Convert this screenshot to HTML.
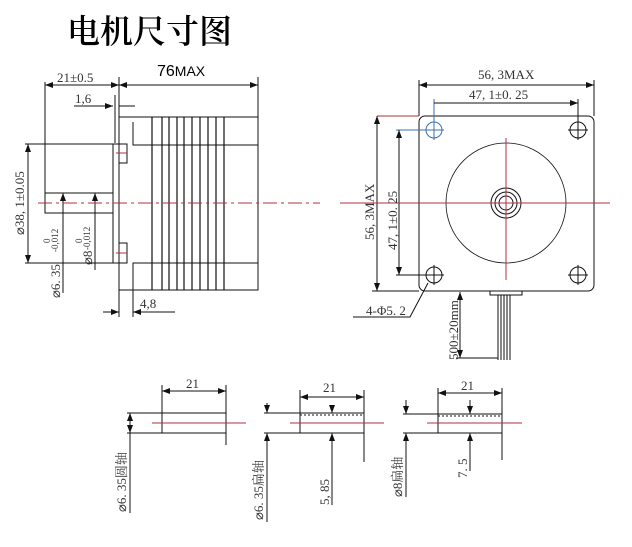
<!DOCTYPE html>
<html><head><meta charset="utf-8"><style>
html,body{margin:0;padding:0;background:#fff;width:632px;height:547px;overflow:hidden}
svg{display:block}
text{font-family:"Liberation Serif","Noto Serif CJK SC",serif;fill:#333}
</style></head><body>
<svg width="632" height="547" viewBox="0 0 632 547" xmlns="http://www.w3.org/2000/svg">
<defs>
<marker id="a" markerWidth="8" markerHeight="6" refX="8" refY="3" orient="auto-start-reverse" markerUnits="userSpaceOnUse"><path d="M0,0 L8,3 L0,6 z" fill="#111"/></marker>
</defs>
<text x="67" y="43" font-size="33" font-weight="600" style="font-family:'Noto Serif CJK SC',serif;fill:#000">电机尺寸图</text>

<g stroke="#111" stroke-width="1" fill="none">
<line x1="45" y1="82" x2="45" y2="213"/>
<line x1="119" y1="77" x2="119" y2="317"/>
<line x1="258" y1="77" x2="258" y2="163"/>
<line x1="45" y1="85" x2="119" y2="85" marker-start="url(#a)" marker-end="url(#a)"/>
<line x1="119" y1="85" x2="258" y2="85" marker-start="url(#a)" marker-end="url(#a)"/>
<line x1="74" y1="106" x2="113" y2="106" marker-end="url(#a)"/>
<line x1="119" y1="106" x2="135" y2="106"/>
<line x1="115" y1="95" x2="115" y2="143"/>
<rect x="113" y="144" width="6" height="119"/>
<rect x="119" y="117" width="139" height="173"/>
<polyline points="133,122 133,145 258,145"/>
<polyline points="133,290 133,263 258,263"/>
<g stroke-width="1.2">
<line x1="152" y1="117" x2="152" y2="290"/><line x1="162" y1="117" x2="162" y2="290"/>
<line x1="169" y1="117" x2="169" y2="290"/><line x1="177" y1="117" x2="177" y2="290"/>
<line x1="184" y1="117" x2="184" y2="290"/><line x1="192" y1="117" x2="192" y2="290"/>
<line x1="200" y1="117" x2="200" y2="290"/><line x1="208" y1="117" x2="208" y2="290"/>
<line x1="216" y1="117" x2="216" y2="290"/><line x1="224" y1="117" x2="224" y2="290"/>
</g>
<rect x="119" y="144" width="8" height="19"/>
<rect x="119" y="243" width="8" height="20"/>
<line x1="25" y1="144" x2="113" y2="144"/>
<line x1="25" y1="263" x2="113" y2="263"/>
<line x1="28" y1="144" x2="28" y2="263" marker-start="url(#a)" marker-end="url(#a)"/>
<rect x="45" y="193" width="68" height="20"/>
<line x1="63" y1="193" x2="63" y2="293" marker-start="url(#a)"/>
<line x1="95" y1="193" x2="95" y2="270" marker-start="url(#a)"/>
<line x1="133" y1="290" x2="133" y2="317"/>
<line x1="103" y1="312" x2="119" y2="312" marker-end="url(#a)"/>
<line x1="133" y1="312" x2="175" y2="312" marker-start="url(#a)"/>

<rect x="419" y="116" width="175" height="175" rx="6"/>
<line x1="419" y1="80" x2="419" y2="116"/>
<line x1="594" y1="80" x2="594" y2="116"/>
<line x1="419" y1="85" x2="594" y2="85" marker-start="url(#a)" marker-end="url(#a)"/>
<line x1="434" y1="99" x2="434" y2="140" stroke="#3a6fb0"/>
<line x1="578" y1="99" x2="578" y2="122"/>
<line x1="434" y1="103" x2="578" y2="103" marker-end="url(#a)"/>
<circle cx="434" cy="130" r="8" stroke="#3a6fb0"/><line x1="424" y1="130" x2="444" y2="130" stroke="#3a6fb0"/>
<circle cx="578" cy="130" r="8"/><line x1="568" y1="130" x2="588" y2="130"/><line x1="578" y1="120" x2="578" y2="140"/>
<circle cx="434" cy="275" r="8"/><line x1="424" y1="275" x2="444" y2="275"/><line x1="434" y1="265" x2="434" y2="285"/>
<circle cx="578" cy="275" r="8"/><line x1="568" y1="275" x2="588" y2="275"/><line x1="578" y1="265" x2="578" y2="285"/>
<circle cx="506" cy="203" r="60" stroke-width="0.8"/>
<circle cx="506" cy="203" r="15"/>
<circle cx="506" cy="203" r="11"/>
<circle cx="506" cy="203" r="7"/>
<line x1="377" y1="116" x2="419" y2="116" stroke="#a33"/>
<line x1="372" y1="291" x2="419" y2="291"/>
<line x1="377" y1="116" x2="377" y2="291" marker-start="url(#a)" marker-end="url(#a)"/>
<line x1="396" y1="130" x2="434" y2="130" stroke="#3a6fb0"/>
<line x1="396" y1="275" x2="424" y2="275"/>
<line x1="399" y1="130" x2="399" y2="275" marker-start="url(#a)" marker-end="url(#a)"/>
<polyline points="353,317 410,317 428,283"/>
<rect x="490" y="291" width="32" height="4"/>
<g stroke-width="1"><line x1="498" y1="295" x2="498" y2="360"/><line x1="501" y1="295" x2="501" y2="360"/><line x1="504" y1="295" x2="504" y2="360"/><line x1="507" y1="295" x2="507" y2="360"/><line x1="510" y1="295" x2="510" y2="360"/></g>
<line x1="460" y1="292" x2="460" y2="358" marker-start="url(#a)" marker-end="url(#a)"/>
<line x1="456" y1="358" x2="498" y2="358"/>

<rect x="162" y="413" width="64" height="20"/>
<line x1="162" y1="385" x2="162" y2="413"/>
<line x1="226" y1="385" x2="226" y2="445"/>
<line x1="162" y1="391" x2="226" y2="391" marker-start="url(#a)" marker-end="url(#a)"/>
<line x1="127" y1="413" x2="162" y2="413"/>
<line x1="127" y1="433" x2="162" y2="433"/>
<line x1="130" y1="413" x2="130" y2="433" marker-start="url(#a)" marker-end="url(#a)"/>
<line x1="130" y1="433" x2="130" y2="513"/>
<rect x="300" y="413" width="64" height="20"/>
<line x1="300" y1="415" x2="364" y2="415" stroke-dasharray="2,2"/>
<line x1="300" y1="390" x2="300" y2="413"/>
<line x1="364" y1="390" x2="364" y2="462"/>
<line x1="300" y1="397" x2="364" y2="397" marker-start="url(#a)" marker-end="url(#a)"/>
<line x1="332" y1="406" x2="332" y2="413" marker-end="url(#a)"/>
<line x1="332" y1="433" x2="332" y2="505" marker-start="url(#a)"/>
<line x1="264" y1="413" x2="300" y2="413"/>
<line x1="264" y1="433" x2="300" y2="433"/>
<line x1="267" y1="403" x2="267" y2="413" marker-end="url(#a)"/>
<line x1="267" y1="433" x2="267" y2="522" marker-start="url(#a)"/>
<rect x="438" y="414" width="64" height="19"/>
<line x1="438" y1="416" x2="502" y2="416" stroke-dasharray="2,2"/>
<line x1="438" y1="388" x2="438" y2="414"/>
<line x1="502" y1="388" x2="502" y2="460"/>
<line x1="438" y1="393" x2="502" y2="393" marker-start="url(#a)" marker-end="url(#a)"/>
<line x1="470" y1="400" x2="470" y2="414" marker-end="url(#a)"/>
<line x1="470" y1="433" x2="470" y2="471" marker-start="url(#a)"/>
<line x1="403" y1="414" x2="438" y2="414"/>
<line x1="403" y1="433" x2="438" y2="433"/>
<line x1="406" y1="400" x2="406" y2="414" marker-end="url(#a)"/>
<line x1="406" y1="433" x2="406" y2="497" marker-start="url(#a)"/>
</g>

<g stroke="#b03040" stroke-width="1" fill="none">
<line x1="38" y1="203" x2="320" y2="203" stroke-dasharray="14,4,3,4"/>
<line x1="340" y1="203" x2="610" y2="203"/>
<line x1="506" y1="138" x2="506" y2="280"/>
<line x1="116" y1="153" x2="127" y2="153"/><line x1="116" y1="253" x2="127" y2="253"/>
<line x1="152" y1="423" x2="246" y2="423"/>
<line x1="290" y1="423" x2="384" y2="423"/>
<line x1="427" y1="423" x2="522" y2="423"/>
</g>

<g font-size="13">
<text x="57" y="82">21±0.5</text>
<text x="157" y="76" font-size="16" style="font-family:'Liberation Sans',sans-serif;fill:#000">76<tspan font-size="14">MAX</tspan></text>
<text x="75" y="103">1,6</text>
<text x="140" y="308">4,8</text>
<text transform="translate(24,235) rotate(-90)">⌀38, 1±0.05</text>
<text transform="translate(60,298) rotate(-90)">⌀6. 35</text>
<text transform="translate(92,265) rotate(-90)">⌀8</text>
<text transform="translate(50,243) rotate(-90)" font-size="9">0</text>
<text transform="translate(58,252) rotate(-90)" font-size="9">-0,012</text>
<text transform="translate(82,243) rotate(-90)" font-size="9">0</text>
<text transform="translate(90,250) rotate(-90)" font-size="9">-0,012</text>
<text x="478" y="79">56, 3MAX</text>
<text x="469" y="99">47, 1±0. 25</text>
<text transform="translate(374,240) rotate(-90)">56, 3MAX</text>
<text transform="translate(397,250) rotate(-90)">47, 1±0. 25</text>
<text x="366" y="315">4-Φ5. 2</text>
<text transform="translate(458,360) rotate(-90)">500±20mm</text>
<text x="186" y="388">21</text>
<text x="323" y="392">21</text>
<text x="461" y="390">21</text>
<text transform="translate(126,512) rotate(-90)">⌀6. 35圆轴</text>
<text transform="translate(263,520) rotate(-90)">⌀6. 35扁轴</text>
<text transform="translate(329,505) rotate(-90)">5, 85</text>
<text transform="translate(402,497) rotate(-90)">⌀8扁轴</text>
<text transform="translate(467,478) rotate(-90)">7. 5</text>
</g>
</svg>
</body></html>
